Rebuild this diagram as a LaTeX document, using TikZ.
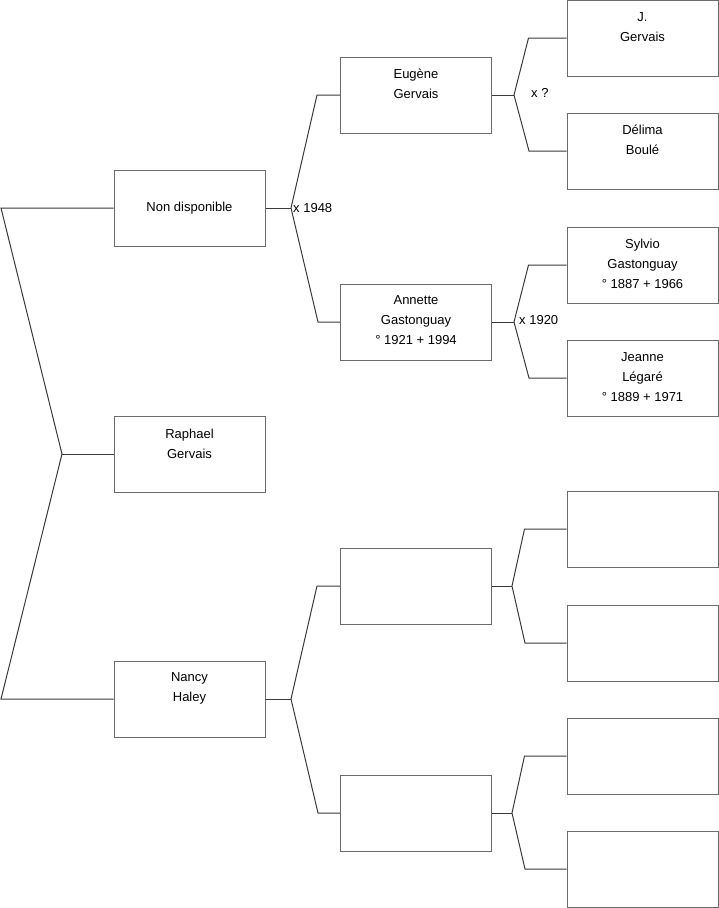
\documentclass[tikz,border=0pt]{standalone}
\usepackage{fontspec}
\setmainfont{Liberation Sans}
\definecolor{boxgray}{HTML}{6A6A6A}
\definecolor{linegray}{HTML}{3A3A3A}
\begin{document}
\begin{tikzpicture}[x=1pt,y=-1pt,
  box/.style={draw=boxgray, line width=1pt, minimum width=151pt, minimum height=76pt, inner sep=0pt},
  txt/.style={align=center, font=\fontsize{13}{20}\selectfont, inner sep=0pt},
  link/.style={draw=linegray, line width=1pt},
  marr/.style={anchor=west, font=\fontsize{13}{15}\selectfont, inner sep=0pt}]
\useasboundingbox (0,0) rectangle (719,908);
% generation 1
\node[box] (nd) at (189.5,208) {};
\node[txt] (ndt) at (189.5,208) {Non disponible};
\node[box] (ra) at (189.5,454) {};
\node[txt] (rat) at (189.5,444) {Raphael\\Gervais};
\node[box] (na) at (189.5,699) {};
\node[txt] (nat) at (189.5,688) {Nancy\\Haley};
% generation 2
\node[box] (eu) at (416,95) {};
\node[txt] (eut) at (416,84) {Eugène\\Gervais};
\node[box] (an) at (416,322) {};
\node[txt] (ant) at (416,320) {Annette\\Gastonguay\\° 1921 + 1994};
\node[box] (e1) at (416,586) {};
\node[box] (e2) at (416,813) {};
% generation 3
\node[box] (jg) at (642.5,38) {};
\node[txt] (jgt) at (642.5,27) {J.\\Gervais};
\node[box] (db) at (642.5,151) {};
\node[txt] (dbt) at (642.5,140) {Délima\\Boulé};
\node[box] (sg) at (642.5,265) {};
\node[txt] (sgt) at (642.5,264) {Sylvio\\Gastonguay\\° 1887 + 1966};
\node[box] (jl) at (642.5,378) {};
\node[txt] (jlt) at (642.5,377) {Jeanne\\Légaré\\° 1889 + 1971};
\node[box] (g1) at (642.5,529) {};
\node[box] (g2) at (642.5,643) {};
\node[box] (g3) at (642.5,756) {};
\node[box] (g4) at (642.5,869) {};
% left fork
\coordinate (L1) at (1,208);
\coordinate (L2) at (62,454);
\coordinate (L3) at (1,699);
\draw[link] (nd.west) -- (L1) -- (L2) -- (L3) -- (na.west);
\draw[link] (L2) -- (ra.west);
% gen1 -> gen2 forks
\coordinate (f1) at (291,208);
\draw[link] (nd.east) -- (f1);
\draw[link] (eu.west) -- ++(-23,0) -- (f1) -- (318,322) -- (an.west);
\node[marr] (m1) at (293,208) {x 1948};
\coordinate (f2) at (291,699);
\draw[link] (na.east) -- (f2);
\draw[link] (e1.west) -- ++(-23,0) -- (f2) -- (318,813) -- (e2.west);
% gen2 -> gen3 forks
\coordinate (f3) at (514,95);
\draw[link] (eu.east) -- (f3);
\draw[link] (jg.west) -- ++(-38,0) -- (f3) -- (529,151) -- (db.west);
\node[marr] (m2) at (531,93) {x ?};
\coordinate (f4) at (514,322);
\draw[link] (an.east) -- (f4);
\draw[link] (sg.west) -- ++(-38,0) -- (f4) -- (529,378) -- (jl.west);
\node[marr] (m3) at (519,320) {x 1920};
\coordinate (f5) at (512,586);
\draw[link] (e1.east) -- (f5);
\draw[link] (g1.west) -- ++(-42,0) -- (f5) -- (525,643) -- (g2.west);
\coordinate (f6) at (512,813);
\draw[link] (e2.east) -- (f6);
\draw[link] (g3.west) -- ++(-42,0) -- (f6) -- (525,869) -- (g4.west);
\end{tikzpicture}
\end{document}
